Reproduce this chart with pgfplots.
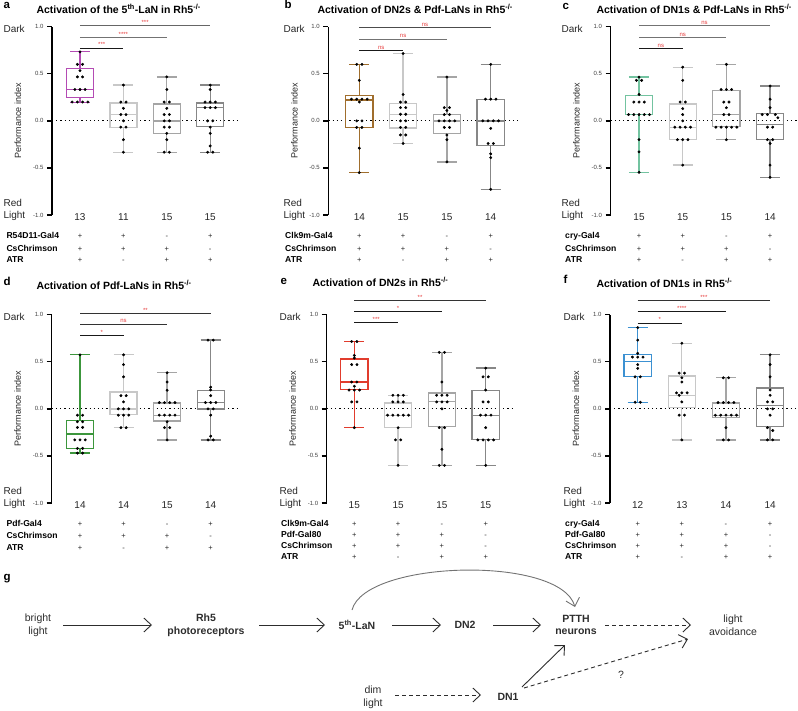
\documentclass[border=0pt]{standalone}
\usepackage{fontspec}
\setmainfont{Liberation Sans}
\usepackage{pgfplots}
\pgfplotsset{compat=1.18}
\usepgfplotslibrary{statistics}
\usetikzlibrary{arrows.meta}

\definecolor{cA}{RGB}{180,75,180}
\definecolor{cB}{RGB}{160,110,45}
\definecolor{cC}{RGB}{115,195,160}
\definecolor{cD}{RGB}{60,150,60}
\definecolor{cE}{RGB}{225,60,45}
\definecolor{cF}{RGB}{60,145,210}
\definecolor{gA}{RGB}{200,200,200}
\definecolor{gB}{RGB}{165,165,165}
\definecolor{gC}{RGB}{135,135,135}
\definecolor{sigred}{RGB}{230,60,60}
\definecolor{ink}{RGB}{45,45,45}

\pgfplotsset{
  pstyle/.style={
    scale only axis, height=188.3pt, ymin=-1, ymax=1,
    axis x line=none, axis y line=left,
    axis line style={-, line width=1.5pt, black},
    ytick={-1,-0.5,0,0.5,1},
    ytick align=outside, major tick length=5pt,
    every tick/.style={black, line width=1.3pt},
    yticklabel style={font=\fontsize{6}{7}\selectfont, text=black!75,
      /pgf/number format/fixed, /pgf/number format/fixed zerofill,
      /pgf/number format/precision=1},
    /pgf/number format/assume math mode=true,
    boxplot/draw direction=y,
    clip=false,
  },
}
\tikzset{
  gfont/.style={anchor=base, font=\fontsize{7.5}{8}\selectfont, text=black!85},
  cfont/.style={anchor=base, font=\fontsize{10}{12}\selectfont, text=black!85},
  lfont/.style={anchor=base west, font=\fontsize{8.6}{10}\selectfont\bfseries},
  tfont/.style={anchor=base west, font=\fontsize{10.5}{12}\selectfont\bfseries},
  pfont/.style={anchor=base west, font=\fontsize{11.5}{12}\selectfont\bfseries},
  sfont/.style={anchor=base, font=\fontsize{6}{7}\selectfont, text=sigred, yshift=1.2pt},
  dfont/.style={font=\fontsize{10.5}{12.7}\selectfont, align=center, text=ink},
  arr/.style={-{Straight Barb[length=7.5pt,width=14pt]}, line width=0.9pt, draw=ink},
}

\newcommand{\boxp}[7]{\addplot[draw=#7, line width=1.3pt, solid, mark=none,
  boxplot prepared={draw position=#1, lower whisker=#2, lower quartile=#3,
  median=#4, upper quartile=#5, upper whisker=#6, box extend=0.62, whisker extend=0.46}]
  coordinates {};}
\newcommand{\dotsp}[1]{\addplot[only marks, mark=*, mark size=1.25pt, black] coordinates {#1};}
\newcommand{\sigbar}[5]{\draw[#5, line width=0.8pt] (axis cs:1,#2) -- (axis cs:#1,#2);
  \node[sfont] at (axis cs:#3,#2) {#4};}
\newcommand{\gtrow}[5]{\node[gfont] at ([yshift=#1]axis cs:1,-1) {#2};
  \node[gfont] at ([yshift=#1]axis cs:2,-1) {#3};
  \node[gfont] at ([yshift=#1]axis cs:3,-1) {#4};
  \node[gfont] at ([yshift=#1]axis cs:4,-1) {#5};}
\newcommand{\counts}[4]{\node[cfont] at ([yshift=-5pt]axis cs:1,-1) {#1};
  \node[cfont] at ([yshift=-5pt]axis cs:2,-1) {#2};
  \node[cfont] at ([yshift=-5pt]axis cs:3,-1) {#3};
  \node[cfont] at ([yshift=-5pt]axis cs:4,-1) {#4};}
\newcommand{\zeroline}{\draw[black, line width=1.2pt, dash pattern=on 1.2pt off 3pt] (rel axis cs:0,0.5) -- (rel axis cs:1,0.5);}
\newcommand{\ylab}{\node[rotate=90, font=\fontsize{9}{10}\selectfont, text=black!85] at ([xshift=-34pt]rel axis cs:0,0.5) {Performance index};}

\begin{document}
\begin{tikzpicture}
\useasboundingbox (0pt,0pt) rectangle (798pt,-710pt);

% ---------------- panel titles and labels
\node[pfont] at (0pt,-8pt) {a};
\node[pfont] at (281pt,-8.5pt) {b};
\node[pfont] at (559pt,-9pt) {c};
\node[pfont] at (0pt,-285pt) {d};
\node[pfont] at (277pt,-284pt) {e};
\node[pfont] at (560pt,-283.3pt) {f};
\node[pfont] at (0pt,-580pt) {g};
\node[tfont] at (33pt,-13.3pt) {Activation of the 5\textsuperscript{th}-LaN in Rh5\textsuperscript{-/-}};
\node[tfont] at (314pt,-13.3pt) {Activation of DN2s \& Pdf-LaNs in Rh5\textsuperscript{-/-}};
\node[tfont] at (593pt,-13.3pt) {Activation of DN1s \& Pdf-LaNs in Rh5\textsuperscript{-/-}};
\node[tfont] at (33pt,-289.3pt) {Activation of Pdf-LaNs in Rh5\textsuperscript{-/-}};
\node[tfont] at (309pt,-286.7pt) {Activation of DN2s in Rh5\textsuperscript{-/-}};
\node[tfont] at (593pt,-287.3pt) {Activation of DN1s in Rh5\textsuperscript{-/-}};

% Dark / Red Light
\foreach \xx/\yy in {0/0, 280/0, 558/0, 0/288, 276/288, 560/288} {
  \node[cfont, anchor=base west] at (\xx pt,-32.3pt-\yy pt) {Dark};
  \node[cfont, anchor=base west] at (\xx pt,-206pt-\yy pt) {Red};
  \node[cfont, anchor=base west] at (\xx pt,-218.3pt-\yy pt) {Light};
}

% genotype labels
\node[lfont] at (3pt,-238.7pt) {R54D11-Gal4};
\node[lfont] at (3pt,-251pt) {CsChrimson};
\node[lfont] at (3pt,-262pt) {ATR};
\node[lfont] at (281.7pt,-238.7pt) {Clk9m-Gal4};
\node[lfont] at (281.7pt,-251pt) {CsChrimson};
\node[lfont] at (281.7pt,-262pt) {ATR};
\node[lfont] at (561.7pt,-238.7pt) {cry-Gal4};
\node[lfont] at (561.7pt,-251pt) {CsChrimson};
\node[lfont] at (561.7pt,-262pt) {ATR};
\node[lfont] at (3pt,-526pt) {Pdf-Gal4};
\node[lfont] at (3pt,-538.5pt) {CsChrimson};
\node[lfont] at (3pt,-550pt) {ATR};
\node[lfont] at (277.7pt,-526pt) {Clk9m-Gal4};
\node[lfont] at (277.7pt,-537.5pt) {Pdf-Gal80};
\node[lfont] at (277.7pt,-548.5pt) {CsChrimson};
\node[lfont] at (277.7pt,-559.5pt) {ATR};
\node[lfont] at (561.7pt,-526pt) {cry-Gal4};
\node[lfont] at (561.7pt,-537.5pt) {Pdf-Gal80};
\node[lfont] at (561.7pt,-548.5pt) {CsChrimson};
\node[lfont] at (561.7pt,-559.5pt) {ATR};

% ---------------- panel a
\begin{axis}[pstyle, at={(52pt,-215pt)}, anchor=south west, width=186pt, xmin=0.355, xmax=4.64]
\zeroline
\boxp{1}{0.195}{0.248}{0.333}{0.557}{0.733}{cA}
\boxp{2}{-0.333}{-0.07}{0.067}{0.19}{0.38}{gA}
\boxp{3}{-0.333}{-0.135}{0}{0.18}{0.467}{gB}
\boxp{4}{-0.333}{-0.057}{0.14}{0.19}{0.38}{gC}
\dotsp{(1,0.733)(0.94,0.6)(1.06,0.6)(1,0.533)(0.94,0.467)(1.06,0.467)(0.88,0.333)(1,0.333)(1.12,0.333)(0.82,0.2)(0.94,0.2)(1.06,0.2)(1.18,0.2)}
\dotsp{(2,0.38)(1.94,0.2)(2.06,0.2)(2,0.133)(1.94,0.067)(2.06,0.067)(2,0)(1.94,-0.067)(2.06,-0.067)(2,-0.2)(2,-0.333)}
\dotsp{(3,0.467)(3,0.333)(2.94,0.2)(3.06,0.2)(3,0.133)(2.94,0.067)(3.06,0.067)(2.94,0)(3.06,0)(2.94,-0.067)(3.06,-0.067)(3,-0.133)(3,-0.2)(2.94,-0.333)(3.06,-0.333)}
\dotsp{(4,0.38)(4,0.333)(3.88,0.2)(4,0.2)(4.12,0.2)(3.88,0.14)(4,0.14)(4.12,0.14)(3.94,0)(4.06,0)(4,-0.067)(4,-0.133)(4,-0.267)(3.94,-0.333)(4.06,-0.333)}
\sigbar{2}{0.773}{1.5}{***}{black!90}
\sigbar{3}{0.887}{2}{****}{black!55}
\sigbar{4}{1.01}{2.5}{***}{black!60}
\ylab
\counts{13}{11}{15}{15}
\gtrow{-23.7pt}{+}{+}{-}{+}
\gtrow{-36pt}{+}{+}{+}{-}
\gtrow{-47pt}{+}{-}{+}{+}
\end{axis}

% ---------------- panel b
\begin{axis}[pstyle, at={(328.3pt,-215pt)}, anchor=south west, width=190pt, xmin=0.292, xmax=4.63]
\zeroline
\boxp{1}{-0.55}{-0.07}{0.22}{0.266}{0.6}{cB}
\boxp{2}{-0.24}{-0.075}{0.07}{0.184}{0.716}{gA}
\boxp{3}{-0.436}{-0.135}{0}{0.067}{0.465}{gB}
\boxp{4}{-0.727}{-0.26}{0}{0.227}{0.6}{gC}
\dotsp{(0.94,0.6)(1.06,0.6)(1,0.43)(0.82,0.23)(0.94,0.23)(1.06,0.23)(1.18,0.23)(1,0.2)(0.94,0)(1.06,0)(0.94,-0.07)(1.06,-0.07)(1,-0.29)(1,-0.55)}
\dotsp{(2,0.716)(2,0.28)(1.94,0.2)(2.06,0.2)(1.94,0.14)(2.06,0.14)(1.94,0.07)(2.06,0.07)(1.94,0)(2.06,0)(1.94,-0.07)(2.06,-0.07)(1.94,-0.15)(2.06,-0.15)(2,-0.24)}
\dotsp{(3,0.465)(2.94,0.14)(3.06,0.14)(3,0.11)(2.94,0.067)(3.06,0.067)(2.82,0)(2.94,0)(3.06,0)(3.18,0)(2.94,-0.07)(3.06,-0.07)(3,-0.15)(3,-0.2)(3,-0.436)}
\dotsp{(4,0.6)(3.88,0.23)(4,0.23)(4.12,0.23)(3.82,0)(3.94,0)(4.06,0)(4.18,0)(4,-0.08)(3.94,-0.24)(4.06,-0.24)(4,-0.35)(4,-0.39)(4,-0.727)}
\sigbar{2}{0.75}{1.5}{ns}{black!90}
\sigbar{3}{0.87}{2}{ns}{black!55}
\sigbar{4}{0.99}{2.5}{ns}{black!70}
\ylab
\counts{14}{15}{15}{14}
\gtrow{-23.7pt}{+}{+}{-}{+}
\gtrow{-36pt}{+}{+}{+}{-}
\gtrow{-47pt}{+}{-}{+}{+}
\end{axis}

% ---------------- panel c
\begin{axis}[pstyle, at={(610.5pt,-215pt)}, anchor=south west, width=186.2pt, xmin=0.347, xmax=4.61]
\zeroline
\boxp{1}{-0.546}{0.067}{0.067}{0.27}{0.465}{cC}
\boxp{2}{-0.47}{-0.2}{-0.067}{0.18}{0.57}{gA}
\boxp{3}{-0.2}{-0.06}{0.067}{0.326}{0.6}{gB}
\boxp{4}{-0.6}{-0.2}{-0.035}{0.08}{0.37}{gC}
\dotsp{(1,0.465)(0.94,0.43)(1.06,0.43)(1,0.28)(0.88,0.2)(1,0.2)(1.12,0.2)(0.76,0.067)(0.88,0.067)(1,0.067)(1.12,0.067)(1.24,0.067)(1,-0.2)(1,-0.33)(1,-0.546)}
\dotsp{(2,0.57)(2,0.43)(1.94,0.2)(2.06,0.2)(2,0.13)(2,0.067)(2,0)(1.82,-0.067)(1.94,-0.067)(2.06,-0.067)(2.18,-0.067)(1.88,-0.2)(2,-0.2)(2.12,-0.2)(2,-0.47)}
\dotsp{(3,0.6)(2.88,0.333)(3,0.333)(3.12,0.333)(2.94,0.2)(3.06,0.2)(3,0.14)(2.94,0.067)(3.06,0.067)(2.76,-0.067)(2.88,-0.067)(3,-0.067)(3.12,-0.067)(3.24,-0.067)(3,-0.2)}
\dotsp{(4,0.37)(4,0.23)(4,0.14)(3.82,0.067)(3.94,0.067)(4.12,0.067)(4.18,0.033)(3.94,-0.067)(4.06,-0.067)(3.94,-0.2)(4.06,-0.2)(4,-0.24)(4,-0.47)(4,-0.6)}
\sigbar{2}{0.77}{1.5}{ns}{black!90}
\sigbar{3}{0.887}{2}{ns}{black!55}
\sigbar{4}{1.01}{2.5}{ns}{black!55}
\ylab
\counts{15}{15}{15}{14}
\gtrow{-23.7pt}{+}{+}{-}{+}
\gtrow{-36pt}{+}{+}{+}{-}
\gtrow{-47pt}{+}{-}{+}{+}
\end{axis}

% ---------------- panel d
\begin{axis}[pstyle, at={(51.7pt,-503pt)}, anchor=south west, width=187.3pt, xmin=0.35, xmax=4.65]
\zeroline
\boxp{1}{-0.47}{-0.42}{-0.268}{-0.127}{0.574}{cD}
\boxp{2}{-0.197}{-0.06}{0}{0.18}{0.574}{gA}
\boxp{3}{-0.33}{-0.13}{-0.067}{0.063}{0.384}{gB}
\boxp{4}{-0.33}{0}{0.07}{0.197}{0.73}{gC}
\dotsp{(1,0.574)(0.94,-0.067)(1.06,-0.067)(0.94,-0.137)(1.06,-0.137)(0.94,-0.197)(1.06,-0.197)(0.88,-0.33)(1,-0.33)(1.12,-0.33)(0.94,-0.42)(1.06,-0.42)(0.94,-0.47)(1.06,-0.47)}
\dotsp{(2,0.574)(2,0.47)(2,0.34)(1.94,0.14)(2.06,0.14)(2,0.074)(1.88,0)(2,0)(2.12,0)(1.88,-0.067)(2,-0.067)(2.12,-0.067)(1.94,-0.2)(2.06,-0.2)}
\dotsp{(3,0.384)(3,0.285)(3,0.197)(2.82,0.067)(2.94,0.067)(3.06,0.067)(3.18,0.067)(2.82,-0.067)(2.94,-0.067)(3.06,-0.067)(3.18,-0.067)(3,-0.137)(2.94,-0.2)(3.06,-0.2)(3,-0.33)}
\dotsp{(3.94,0.73)(4.06,0.73)(4,0.23)(4,0.2)(4,0.14)(3.88,0.067)(4,0.067)(4.12,0.067)(3.94,0)(4.06,0)(4,-0.067)(4,-0.29)(3.94,-0.33)(4.06,-0.33)}
\sigbar{2}{0.78}{1.5}{*}{black!90}
\sigbar{3}{0.9}{2}{ns}{black!80}
\sigbar{4}{1.01}{2.5}{**}{black!80}
\ylab
\counts{14}{14}{15}{14}
\gtrow{-23pt}{+}{+}{-}{+}
\gtrow{-35.5pt}{+}{+}{+}{-}
\gtrow{-47pt}{+}{-}{+}{+}
\end{axis}

% ---------------- panel e
\begin{axis}[pstyle, at={(326.7pt,-503pt)}, anchor=south west, width=187.3pt, xmin=0.37, xmax=4.646]
\zeroline
\boxp{1}{-0.2}{0.208}{0.285}{0.53}{0.715}{cE}
\boxp{2}{-0.6}{-0.2}{-0.067}{0.063}{0.144}{gA}
\boxp{3}{-0.6}{-0.19}{0.08}{0.17}{0.6}{gB}
\boxp{4}{-0.6}{-0.324}{-0.067}{0.194}{0.433}{gC}
\dotsp{(0.94,0.715)(1.06,0.715)(1,0.567)(1,0.54)(0.94,0.47)(1.06,0.47)(0.94,0.285)(1.06,0.285)(1,0.24)(0.88,0.2)(1,0.2)(1.12,0.2)(0.94,0.074)(1.06,0.074)(1,-0.2)}
\dotsp{(1.88,0.144)(2,0.144)(2.12,0.144)(1.88,0.074)(2,0.074)(2.12,0.074)(1.76,-0.067)(1.88,-0.067)(2,-0.067)(2.12,-0.067)(2.24,-0.067)(2,-0.2)(1.94,-0.33)(2.06,-0.33)(2,-0.6)}
\dotsp{(2.94,0.6)(3.06,0.6)(3,0.285)(2.88,0.144)(3,0.144)(3.12,0.144)(2.88,0.074)(3,0.074)(3.12,0.074)(3,0)(2.94,-0.2)(3.06,-0.2)(3,-0.43)(2.94,-0.6)(3.06,-0.6)}
\dotsp{(4,0.433)(3.94,0.34)(4.06,0.34)(4,0.2)(3.94,0.074)(4.06,0.074)(3.88,-0.067)(4,-0.067)(4.12,-0.067)(4,-0.2)(3.82,-0.33)(3.94,-0.33)(4.06,-0.33)(4.18,-0.33)(4,-0.6)}
\sigbar{2}{0.916}{1.5}{***}{black!90}
\sigbar{3}{1.036}{2}{*}{black!90}
\sigbar{4}{1.153}{2.5}{**}{black!80}
\ylab
\counts{15}{15}{15}{15}
\gtrow{-23pt}{+}{+}{-}{+}
\gtrow{-34.5pt}{+}{+}{+}{-}
\gtrow{-45.5pt}{+}{+}{+}{-}
\gtrow{-56.5pt}{+}{-}{+}{+}
\end{axis}

% ---------------- panel f
\begin{axis}[pstyle, at={(610pt,-503pt)}, anchor=south west, width=187pt, xmin=0.372, xmax=4.61]
\zeroline
\boxp{1}{0.07}{0.345}{0.503}{0.577}{0.863}{cF}
\boxp{2}{-0.33}{0.014}{0.144}{0.35}{0.697}{gA}
\boxp{3}{-0.33}{-0.09}{-0.067}{0.063}{0.33}{gB}
\boxp{4}{-0.33}{-0.19}{0.033}{0.222}{0.574}{gC}
\dotsp{(1,0.863)(1,0.73)(1,0.59)(0.88,0.55)(1,0.55)(1.12,0.55)(1,0.47)(1,0.43)(0.94,0.34)(1.06,0.34)(0.94,0.07)(1.06,0.07)}
\dotsp{(2,0.697)(1.94,0.38)(2.06,0.38)(2,0.33)(2,0.285)(1.88,0.17)(2,0.17)(2.12,0.17)(1.94,0.144)(2,0.074)(1.94,-0.067)(2.06,-0.067)(2,-0.33)}
\dotsp{(2.94,0.33)(3.06,0.33)(2.82,0.067)(2.94,0.067)(3.06,0.067)(3.18,0.067)(2.76,-0.067)(2.88,-0.067)(3,-0.067)(3.12,-0.067)(3.24,-0.067)(3,-0.2)(2.94,-0.33)(3.06,-0.33)}
\dotsp{(4,0.574)(4,0.47)(4,0.34)(4,0.2)(4,0.144)(3.94,0.074)(4.06,0.074)(3.94,0)(4.06,0)(4,-0.067)(3.94,-0.2)(4.06,-0.23)(3.94,-0.33)(4.06,-0.33)}
\sigbar{2}{0.912}{1.5}{*}{black!90}
\sigbar{3}{1.03}{2}{****}{black!90}
\sigbar{4}{1.153}{2.5}{***}{black!80}
\ylab
\counts{12}{13}{14}{14}
\gtrow{-23pt}{+}{+}{-}{+}
\gtrow{-34.5pt}{+}{+}{+}{-}
\gtrow{-45.5pt}{+}{+}{+}{-}
\gtrow{-56.5pt}{+}{-}{+}{+}
\end{axis}

% ---------------- panel g diagram
\node[dfont] at (38pt,-625pt) {bright\\light};
\node[dfont, font=\fontsize{10.5}{12.7}\selectfont\bfseries] at (206pt,-625pt) {Rh5\\photoreceptors};
\node[dfont, font=\fontsize{10.5}{12.7}\selectfont\bfseries] at (357pt,-625pt) {5\textsuperscript{th}-LaN};
\node[dfont, font=\fontsize{10.5}{12.7}\selectfont\bfseries] at (465pt,-625pt) {DN2};
\node[dfont, font=\fontsize{10.5}{12.7}\selectfont\bfseries] at (576pt,-625pt) {PTTH\\neurons};
\node[dfont] at (733pt,-625pt) {light\\avoidance};
\node[dfont] at (373pt,-697pt) {dim\\light};
\node[dfont, font=\fontsize{10.5}{12.7}\selectfont\bfseries] at (508pt,-697pt) {DN1};
\node[dfont] at (621pt,-675pt) {?};
\draw[arr] (63pt,-625pt) -- (152pt,-625pt);
\draw[arr] (259pt,-625pt) -- (325pt,-625pt);
\draw[arr] (392pt,-625pt) -- (441pt,-625pt);
\draw[arr] (493pt,-625pt) -- (541pt,-625pt);
\draw[arr, dash pattern=on 4pt off 3pt] (605pt,-625pt) -- (691pt,-625pt);
\draw[arr, dash pattern=on 4pt off 3pt] (395pt,-695pt) -- (481pt,-695pt);
\draw[arr] (522pt,-687pt) -- (565pt,-645pt);
\draw[arr, dash pattern=on 4pt off 3pt] (524pt,-688pt) -- (688pt,-639pt);
\draw[arr, draw=black!55] (352pt,-610pt) .. controls (365pt,-560pt) and (560pt,-555pt) .. (575pt,-607pt);
\end{tikzpicture}
\end{document}
